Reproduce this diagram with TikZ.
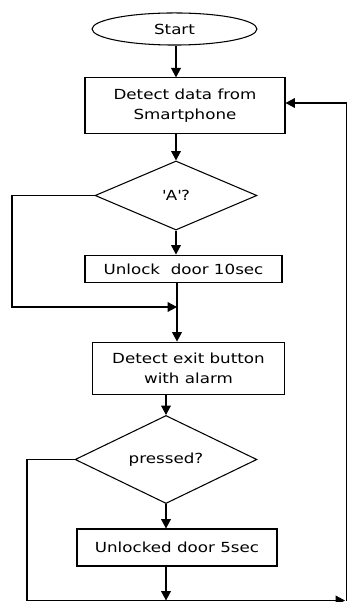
\documentclass[tikz,border=0pt]{standalone}
\usepackage{fontspec}
\setmainfont{DejaVu Sans}[FakeStretch=1.2]
\usetikzlibrary{arrows.meta,positioning,shapes.geometric}
\tikzset{
  proc/.style={rectangle, draw=black, line width=0.8pt, fill=white, align=center,
    inner sep=2pt, font=\fontsize{10.5}{15.5}\selectfont},
  decide/.style={diamond, draw=black, line width=0.8pt, fill=white, align=center,
    inner sep=0pt, font=\fontsize{10.5}{15.5}\selectfont},
  terminal/.style={ellipse, draw=black, line width=0.8pt, fill=white,
    inner sep=0pt, font=\fontsize{10.5}{15.5}\selectfont},
  flow/.style={-{Triangle[length=2.5mm,width=2.6mm]}, line width=0.8pt, draw=black},
}

\begin{document}
\begin{tikzpicture}[x=0.0265cm, y=-0.0265cm]
  \useasboundingbox (0,0) rectangle (347,602);
  \node[terminal, minimum width=4.37cm, minimum height=0.85cm] (start) at (174.5,29) {Start};
  \node[proc, minimum width=5.3cm, minimum height=1.46cm] (detect) at (185,105.5) {Detect data from\\Smartphone};
  \node[decide, minimum width=4.29cm, minimum height=1.83cm] (checkA) at (176,195.5) {\textquotesingle A\textquotesingle ?};
  \node[proc, minimum width=5.22cm, minimum height=0.74cm] (unlock) at (183.5,269) {Unlock~ door 10sec};
  \node[proc, minimum width=5.11cm, minimum height=1.4cm] (exitbtn) at (188.5,368.5) {Detect exit button\\with alarm};
  \node[decide, minimum width=4.82cm, minimum height=1.78cm] (pressed) at (166,459.5) {pressed?};
  \node[proc, minimum width=5.3cm, minimum height=0.98cm] (unlocked) at (177,547.5) {Unlocked door 5sec};
  \coordinate (joinL) at (12,307);
  \coordinate (joinR) at (177,307);
  \coordinate (botL) at (27,600.5);
  \coordinate (botR) at (345,600.5);
  \coordinate (rgtB) at (346.5,600.5);
  % main column
  \draw[flow] (checkA.north |- start.south) -- (checkA.north |- detect.north);
  \draw[flow] (checkA.north |- detect.south) -- (checkA.north);
  \draw[flow] (checkA.south) -- (checkA.south |- unlock.north);
  \draw[flow] (joinR |- unlock.south) -- (joinR |- exitbtn.north);
  \draw[flow] (pressed.north |- exitbtn.south) -- (pressed.north);
  \draw[flow] (pressed.south) -- (pressed.south |- unlocked.north);
  \draw[flow] (pressed.south |- unlocked.south) -- (pressed.south |- botL);
  % side loops
  \draw[flow] (checkA.west) -| (joinL) -- (joinR);
  \draw[flow] (pressed.west) -| (botL) -- (botR);
  \draw[flow] (rgtB) |- (detect.east |- 0,103);
\end{tikzpicture}
\end{document}
